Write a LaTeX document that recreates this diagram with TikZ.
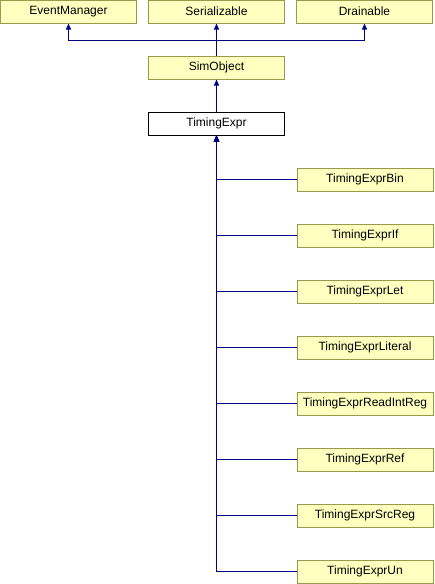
\documentclass[tikz,border=0pt]{standalone}
\usepackage{fontspec}
\setmainfont{Liberation Sans}
\usetikzlibrary{arrows.meta}
\definecolor{boxfill}{HTML}{FFFFC0}
\definecolor{boxborder}{HTML}{99994C}
\definecolor{edgeblue}{HTML}{000080}
\begin{document}
\begin{tikzpicture}[x=1pt,y=-1pt,
  cls/.style={draw=boxborder,fill=boxfill,line width=1pt,minimum width=136pt,minimum height=23pt,inner sep=0pt,font=\fontsize{12}{14}\selectfont},
  cur/.style={cls,draw=black,fill=white},
  edge/.style={draw=edgeblue,line width=1pt,-{Triangle[width=5pt,length=6pt]}}]
\fill[white] (0,0) rectangle (434,584);
\useasboundingbox (0,0) rectangle (434,584);
\node[cls] (em) at (68.5,11.5) {EventManager};
\node[cls] (ser) at (216.5,11.5) {Serializable};
\node[cls] (dr) at (364.5,11.5) {Drainable};
\node[cls] (sim) at (216.5,67.5) {SimObject};
\node[cur] (te) at (216.5,123.5) {TimingExpr};
\node[cls] (c1) at (365,179.5) {TimingExprBin};
\node[cls] (c2) at (365,235.5) {TimingExprIf};
\node[cls] (c3) at (365,291.5) {TimingExprLet};
\node[cls] (c4) at (365,347.5) {TimingExprLiteral};
\node[cls] (c5) at (365,403.5) {TimingExprReadIntReg};
\node[cls] (c6) at (365,459.5) {TimingExprRef};
\node[cls] (c7) at (365,515.5) {TimingExprSrcReg};
\node[cls] (c8) at (365,571.5) {TimingExprUn};
\coordinate (j) at (216.5,40);
\draw[edge] (sim.north) -- (ser.south);
\draw[edge] (sim.north) -- (j) -| (em.south);
\draw[edge] (sim.north) -- (j) -| (dr.south);
\draw[edge] (te.north) -- (sim.south);
\foreach \c in {c1,c2,c3,c4,c5,c6,c7,c8}
  \draw[edge] (\c.west) -| (te.south);
\end{tikzpicture}
\end{document}
